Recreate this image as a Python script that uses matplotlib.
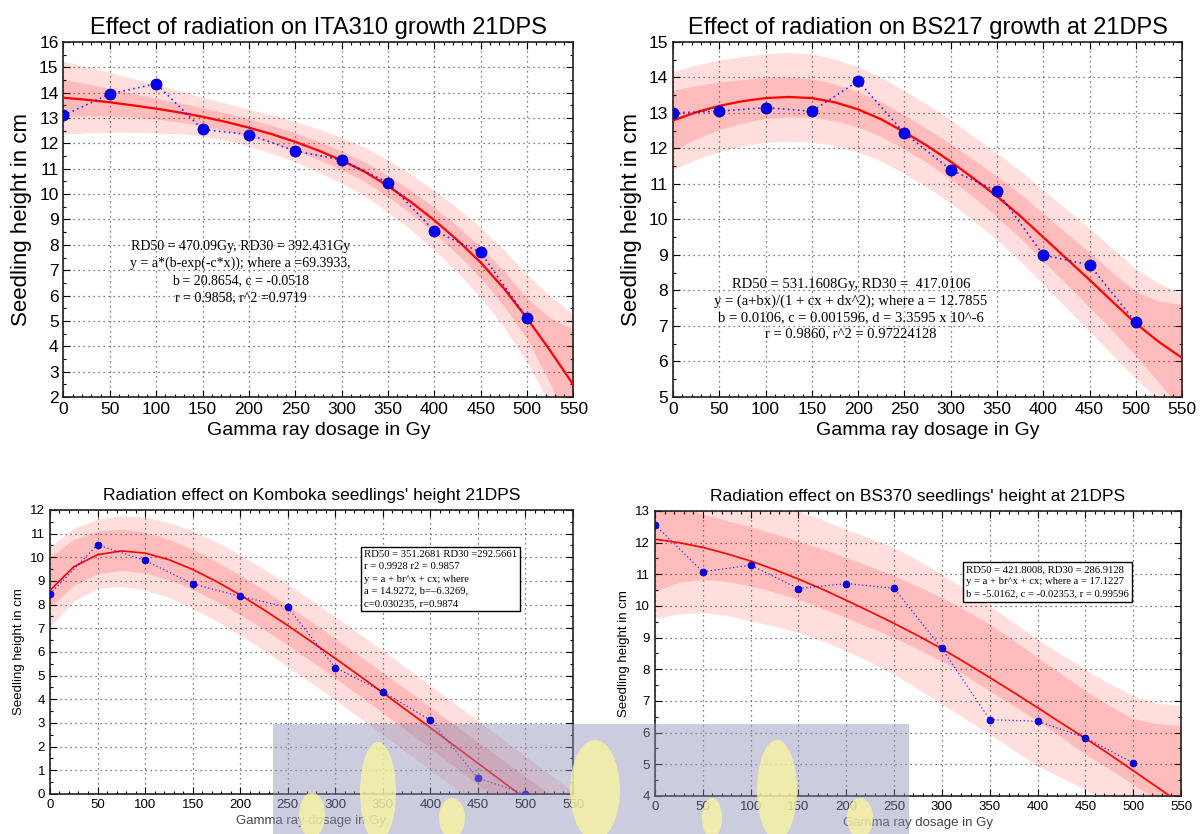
import matplotlib
matplotlib.use("Agg")
import matplotlib.pyplot as plt
import matplotlib.patches as patches
from matplotlib.ticker import MultipleLocator, AutoMinorLocator

# measured doses and fitted-curve sampling doses (Gy)
dose = [0, 50, 100, 150, 200, 250, 300, 350, 400, 450, 500]
fit_dose = [0, 25, 50, 75, 100, 125, 150, 175, 200, 225, 250, 275,
            300, 325, 350, 375, 400, 425, 450, 475, 500, 525, 550]

# ITA310
ita_height = [13.1, 13.95, 14.35, 12.55, 12.35, 11.7, 11.35, 10.45, 8.55, 7.7, 5.1]
ita_fit = [13.80, 13.72, 13.62, 13.50, 13.37, 13.22, 13.05, 12.85, 12.62, 12.36, 12.06, 11.72,
           11.33, 10.88, 10.32, 9.68, 8.97, 8.18, 7.30, 6.28, 5.10, 3.82, 2.47]
ita_in_hi = [14.53, 14.35, 14.16, 13.97, 13.78, 13.60, 13.41, 13.20, 12.97, 12.71, 12.41, 12.08,
             11.70, 11.27, 10.74, 10.14, 9.47, 8.73, 7.91, 6.97, 5.90, 5.12, 4.67]
ita_in_lo = [13.07, 13.09, 13.08, 13.03, 12.96, 12.84, 12.69, 12.50, 12.27, 12.01, 11.71, 11.36,
             10.96, 10.49, 9.90, 9.22, 8.47, 7.63, 6.69, 5.59, 4.30, 2.52, 0.27]
ita_out_hi = [15.24, 15.02, 14.80, 14.56, 14.33, 14.07, 13.81, 13.58, 13.35, 13.12, 12.86, 12.57,
              12.23, 11.84, 11.35, 10.78, 10.15, 9.45, 8.68, 7.80, 6.82, 5.97, 5.27]
ita_out_lo = [12.36, 12.42, 12.44, 12.44, 12.41, 12.37, 12.29, 12.12, 11.89, 11.60, 11.26, 10.87,
              10.43, 9.92, 9.29, 8.58, 7.79, 6.91, 5.92, 4.76, 3.38, 1.67, -0.33]

# BS217
bs217_height = [13.0, 13.05, 13.15, 13.05, 13.9, 12.43, 11.4, 10.8, 9.0, 8.72, 7.1]
bs217_fit = [12.79, 13.02, 13.20, 13.33, 13.42, 13.45, 13.42, 13.30, 13.10, 12.82, 12.46, 12.07,
             11.63, 11.15, 10.65, 10.10, 9.50, 8.90, 8.30, 7.68, 7.07, 6.55, 6.10]
bs217_in_hi = [13.64, 13.77, 13.87, 13.94, 14.00, 14.01, 13.96, 13.82, 13.60, 13.31, 12.94, 12.55,
               12.13, 11.68, 11.22, 10.72, 10.17, 9.62, 9.07, 8.50, 7.97, 7.70, 7.60]
bs217_in_lo = [11.94, 12.27, 12.53, 12.72, 12.84, 12.89, 12.88, 12.78, 12.60, 12.33, 11.98, 11.59,
               11.13, 10.62, 10.08, 9.48, 8.83, 8.18, 7.53, 6.86, 6.17, 5.40, 4.60]
bs217_out_hi = [14.17, 14.35, 14.49, 14.59, 14.67, 14.70, 14.66, 14.52, 14.30, 14.00, 13.63, 13.24,
                12.80, 12.34, 11.87, 11.37, 10.83, 10.29, 9.75, 9.18, 8.62, 8.20, 7.90]
bs217_out_lo = [11.41, 11.69, 11.91, 12.07, 12.17, 12.20, 12.18, 12.08, 11.90, 11.64, 11.29, 10.90,
                10.46, 9.96, 9.43, 8.83, 8.17, 7.51, 6.85, 6.18, 5.52, 4.90, 4.30]

# Komboka
kom_height = [8.45, 10.53, 9.87, 8.88, 8.35, 7.89, 5.34, 4.32, 3.12, 0.67, 0.0]
kom_fit = [8.60, 9.60, 10.11, 10.27, 10.18, 9.90, 9.49, 8.98, 8.41, 7.78, 7.12, 6.43,
           5.73, 5.01, 4.28, 3.54, 2.80, 2.05, 1.30, 0.55, -0.20, -0.95, -1.70]
kom_in_hi = [10.02, 10.75, 11.11, 11.19, 11.06, 10.76, 10.34, 9.82, 9.25, 8.62, 7.96, 7.27,
             6.57, 5.85, 5.13, 4.40, 3.67, 2.93, 2.20, 1.47, 0.74, 0.01, -0.72]
kom_in_lo = [7.88, 8.82, 9.31, 9.45, 9.34, 9.06, 8.65, 8.14, 7.58, 6.95, 6.29, 5.60,
             4.90, 4.17, 3.43, 2.68, 1.93, 1.17, 0.40, -0.37, -1.14, -1.91, -2.68]
kom_out_hi = [10.45, 11.22, 11.61, 11.75, 11.70, 11.48, 11.12, 10.65, 10.11, 9.50, 8.86, 8.18,
              7.49, 6.78, 6.06, 5.32, 4.59, 3.84, 3.10, 2.35, 1.60, 0.85, 0.10]
kom_out_lo = [7.05, 8.15, 8.69, 8.77, 8.62, 8.30, 7.85, 7.31, 6.71, 6.06, 5.38, 4.68,
              3.97, 3.24, 2.50, 1.76, 1.01, 0.26, -0.50, -1.25, -2.00, -2.75, -3.50]

# BS370
bs370_height = [12.56, 11.08, 11.29, 10.55, 10.71, 10.56, 8.66, 6.41, 6.36, 5.84, 5.04]
bs370_fit = [12.11, 12.00, 11.85, 11.65, 11.42, 11.15, 10.85, 10.53, 10.18, 9.82, 9.45, 9.06,
             8.65, 8.20, 7.74, 7.27, 6.79, 6.30, 5.82, 5.32, 4.80, 4.28, 3.75]
bs370_in_hi = [13.40, 13.15, 12.90, 12.70, 12.50, 12.28, 12.05, 11.80, 11.53, 11.25, 10.95, 10.62,
               10.26, 9.86, 9.42, 8.92, 8.37, 7.85, 7.32, 6.85, 6.45, 6.28, 6.22]
bs370_in_lo = [10.47, 10.75, 10.84, 10.78, 10.63, 10.44, 10.21, 9.93, 9.63, 9.32, 9.00, 8.64,
               8.26, 7.80, 7.32, 6.85, 6.37, 5.85, 5.32, 4.85, 4.37, 3.85, 3.30]
bs370_out_hi = [14.50, 14.25, 14.00, 13.75, 13.50, 13.25, 13.00, 12.72, 12.42, 12.14, 11.84, 11.44,
                11.00, 10.52, 10.00, 9.48, 8.95, 8.47, 8.00, 7.55, 7.16, 6.93, 6.85]
bs370_out_lo = [9.61, 9.75, 9.79, 9.70, 9.53, 9.36, 9.16, 8.90, 8.58, 8.23, 7.84, 7.38,
                6.89, 6.42, 5.95, 5.45, 4.95, 4.58, 4.20, 3.80, 3.40, 3.00, 2.60]

SANS = ['Liberation Sans', 'DejaVu Sans']
SERIF = ['Liberation Serif', 'DejaVu Serif']
plt.rcParams['font.family'] = SANS


def draw_panel(ax, height, fit, in_lo, in_hi, out_lo, out_hi, ylim, big):
    # prediction / confidence bands
    ax.fill_between(fit_dose, out_lo, out_hi, color='red', alpha=0.13, lw=0, zorder=1)
    ax.fill_between(fit_dose, in_lo, in_hi, color='red', alpha=0.15, lw=0, zorder=1)
    ax.plot(fit_dose, fit, color='red', lw=1.6 if big else 1.2, zorder=3)
    ax.plot(dose, height, color='blue', ls=(0, (1, 2)), lw=1.2 if big else 0.9,
            alpha=0.8, zorder=4)
    ax.plot(dose, height, 'o', color='blue', mec='#000080', mew=0.5,
            ms=8 if big else 5, zorder=5)

    ax.set_xlim(0, 550)
    ax.set_ylim(*ylim)
    ax.xaxis.set_major_locator(MultipleLocator(50))
    ax.yaxis.set_major_locator(MultipleLocator(1))
    ax.xaxis.set_minor_locator(AutoMinorLocator(5))
    ax.yaxis.set_minor_locator(AutoMinorLocator(2))
    ax.grid(True, which='major', color='#555555', ls=(0, (1, 3)), lw=0.9)
    ax.set_axisbelow(True)
    ax.tick_params(which='both', direction='in', top=True, right=True, width=0.8)
    ax.tick_params(which='major', length=5, labelsize=12.5 if big else 9.5)
    ax.tick_params(which='minor', length=2.5)
    for sp in ax.spines.values():
        sp.set_linewidth(1.2)
        sp.set_color('#222222')


fig = plt.figure(figsize=(12.04, 8.34), dpi=100)

ax1 = fig.add_axes([0.0527, 0.524, 0.4236, 0.4257])
draw_panel(ax1, ita_height, ita_fit, ita_in_lo, ita_in_hi, ita_out_lo, ita_out_hi, (2, 16), True)
ax1.set_title("Effect of radiation on ITA310 growth 21DPS", fontsize=17, pad=6)
ax1.set_xlabel("Gamma ray dosage in Gy", fontsize=14, labelpad=4)
ax1.set_ylabel("Seedling height in cm", fontsize=16, labelpad=5)
ax1.text(191, 6.93,
         "RD50 = 470.09Gy, RD30 = 392.431Gy\n"
         "y = a*(b-exp(-c*x)); where a =69.3933,\n"
         "b = 20.8654, c = -0.0518\n"
         "r = 0.9858, r^2 =0.9719",
         family=SERIF, fontsize=10, linespacing=1.4, ha='center', va='center',
         multialignment='center', zorder=6)

ax2 = fig.add_axes([0.559, 0.524, 0.4228, 0.4257])
draw_panel(ax2, bs217_height, bs217_fit, bs217_in_lo, bs217_in_hi, bs217_out_lo, bs217_out_hi, (5, 15), True)
ax2.set_title("Effect of radiation on BS217 growth at 21DPS", fontsize=17, pad=6)
ax2.set_xlabel("Gamma ray dosage in Gy", fontsize=14, labelpad=4)
ax2.set_ylabel("Seedling height in cm", fontsize=16, labelpad=5)
ax2.text(192, 7.48,
         "RD50 = 531.1608Gy, RD30 =  417.0106\n"
         "y = (a+bx)/(1 + cx + dx^2); where a = 12.7855\n"
         "b = 0.0106, c = 0.001596, d = 3.3595 x 10^-6\n"
         "r = 0.9860, r^2 = 0.97224128",
         family=SERIF, fontsize=10.5, linespacing=1.3, ha='center', va='center',
         multialignment='center', zorder=6)

ax3 = fig.add_axes([0.0415, 0.048, 0.4344, 0.3405])
draw_panel(ax3, kom_height, kom_fit, kom_in_lo, kom_in_hi, kom_out_lo, kom_out_hi, (0, 12), False)
ax3.set_title("Radiation effect on Komboka seedlings' height 21DPS", fontsize=12.5, pad=7)
ax3.set_xlabel("Gamma ray dosage in Gy", fontsize=9.5, color='#444444', labelpad=3)
ax3.set_ylabel("Seedling height in cm", fontsize=9.5, labelpad=4)
ax3.text(330, 10.3,
         "RD50 = 351.2681 RD30 =292.5661\n"
         "r = 0.9928 r2 = 0.9857\n"
         "y = a + br^x + cx; where\n"
         "a = 14.9272, b=\u20136.3269,\n"
         "c=0.030235, r=0.9874",
         family=SERIF, fontsize=7.7, linespacing=1.45, ha='left', va='top', zorder=6,
         bbox=dict(boxstyle='square,pad=0.3', fc='white', ec='black', lw=1.0))

ax4 = fig.add_axes([0.544, 0.0456, 0.4369, 0.3417])
draw_panel(ax4, bs370_height, bs370_fit, bs370_in_lo, bs370_in_hi, bs370_out_lo, bs370_out_hi, (4, 13), False)
ax4.set_title("Radiation effect on BS370 seedlings' height at 21DPS", fontsize=12.5, pad=7)
ax4.set_xlabel("Gamma ray dosage in Gy", fontsize=9.5, color='#444444', labelpad=3)
ax4.set_ylabel("Seedling height in cm", fontsize=9.5, labelpad=4)
ax4.text(325, 11.29,
         "RD50 = 421.8008, RD30 = 286.9128\n"
         "y = a + br^x + cx; where a = 17.1227\n"
         "b = -5.0162, c = -0.02353, r = 0.99596",
         family=SERIF, fontsize=7.7, linespacing=1.45, ha='left', va='top', zorder=6,
         bbox=dict(boxstyle='square,pad=0.3', fc='white', ec='black', lw=1.0))

# faint watermark logo over the lower middle of the page
W, H = 1204.0, 834.0
fig.patches.append(patches.Rectangle((273 / W, 0), 636 / W, 110 / H, transform=fig.transFigure,
                                     fc=(0.55, 0.57, 0.72), alpha=0.45, ec='none', zorder=10))
for cx, cy, w, h in [(378, 792, 36, 100), (312, 815, 26, 45), (452, 818, 26, 40),
                     (595, 790, 50, 100), (777, 790, 40, 100), (712, 818, 20, 40), (860, 818, 26, 40)]:
    fig.patches.append(patches.Ellipse((cx / W, 1 - cy / H), w / W, h / H, transform=fig.transFigure,
                                       fc='#f8f3a0', alpha=0.8, ec='none', zorder=11))

fig.savefig("out.png", dpi=100)
